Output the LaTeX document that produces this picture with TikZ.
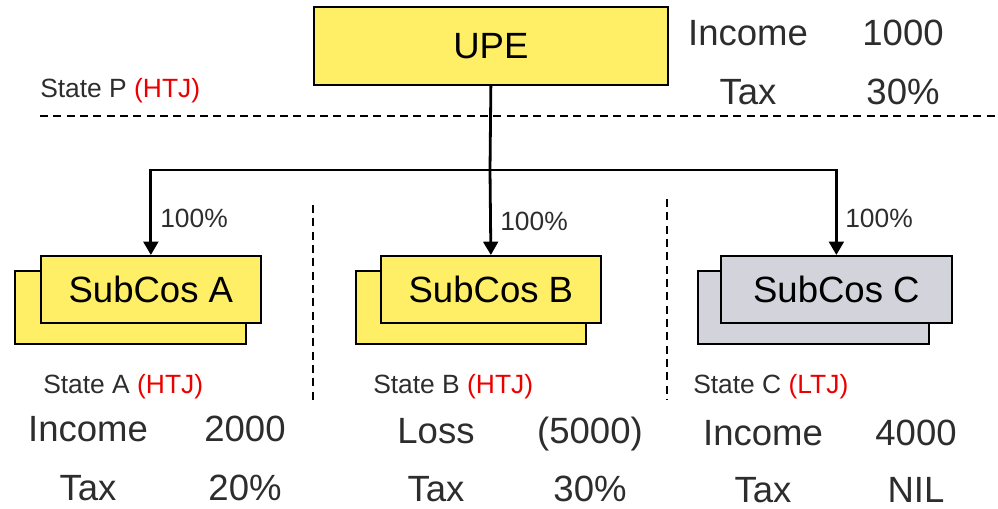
\documentclass[tikz,border=0pt]{standalone}
\usepackage{fontspec}
\setmainfont{Liberation Sans}
\usetikzlibrary{arrows.meta}
\definecolor{boxyellow}{RGB}{255,239,102}
\definecolor{boxgray}{RGB}{211,211,219}
\definecolor{txtgray}{RGB}{45,45,45}
\definecolor{jred}{RGB}{235,0,0}
\tikzset{
  big/.style={font=\fontsize{27.4}{32}\selectfont, text=txtgray, inner sep=0pt, anchor=base},
  small/.style={font=\fontsize{19.8}{24}\selectfont, text=txtgray, inner sep=0pt, anchor=base west},
  entity/.style={draw=black, line width=1.3pt, inner sep=0pt, anchor=north west,
    font=\fontsize{27.4}{32}\selectfont, text=black},
  yellowbox/.style={entity, fill=boxyellow},
  graybox/.style={entity, fill=boxgray},
  % size given in pixels of the drawing grid (1 px = 0.75 pt)
  sz/.style 2 args={minimum width={#1*0.75pt}, minimum height={#2*0.75pt}},
  link/.style={draw=black, line width=2.1pt},
  own/.style={link, -{Triangle[length=10pt,width=11pt]}},
  border/.style={draw=black, line width=1.1pt, dash pattern=on 6pt off 4pt},
}
\begin{document}
\begin{tikzpicture}[x=0.75pt, y=-0.75pt]
\useasboundingbox (0,0) rectangle (998,508);

% parent entity
\node[yellowbox, sz={354}{78}] (UPE) at (313,6) {UPE};
\node[big] (pInc) at (748,45) {Income};
\node[big] (pIncV) at (903,45) {1000};
\node[big] (pTax) at (748,104) {Tax};
\node[big] (pTaxV) at (903,104) {30\%};
\node[small] (stP) at (40,97) {State P \textcolor{jred}{(HTJ)}};

% jurisdiction borders
\draw[border] (40,116) -- (998,116);
\draw[border] (313,205) -- (313,400);
\draw[border] (667,199) -- (667,400);

% subsidiaries (stacked boxes)
\node[yellowbox, sz={231}{73}] (Aback) at (14,270) {};
\node[yellowbox, sz={220}{67}] (A) at (40,255) {SubCos A};
\node[yellowbox, sz={230}{73}] (Bback) at (355,270) {};
\node[yellowbox, sz={220}{67}] (B) at (380,255) {SubCos B};
\node[graybox, sz={231}{73}] (Cback) at (697,270) {};
\node[graybox, sz={231}{67}] (C) at (720,255) {SubCos C};

% ownership links
\coordinate (j) at (490,170);
\draw[link] (UPE.south) -- (j);
\draw[own] (j) -| (A.north);
\draw[own] (j) -- (B.north);
\draw[own] (j) -| (C.north);
\node[small] (pa) at (160,227) {100\%};
\node[small] (pb) at (500,230) {100\%};
\node[small] (pc) at (845,227) {100\%};

% State A
\node[small] (stA) at (43,393) {State A \textcolor{jred}{(HTJ)}};
\node[big] (aInc) at (88,441) {Income};
\node[big] (aIncV) at (245,441) {2000};
\node[big] (aTax) at (88,500) {Tax};
\node[big] (aTaxV) at (245,500) {20\%};

% State B
\node[small] (stB) at (373,393) {State B \textcolor{jred}{(HTJ)}};
\node[big] (bLoss) at (436,443) {Loss};
\node[big] (bLossV) at (590,443) {(5000)};
\node[big] (bTax) at (436,501) {Tax};
\node[big] (bTaxV) at (590,501) {30\%};

% State C
\node[small] (stC) at (693,393) {State C \textcolor{jred}{(LTJ)}};
\node[big] (cInc) at (763,445) {Income};
\node[big] (cIncV) at (916,445) {4000};
\node[big] (cTax) at (763,502) {Tax};
\node[big] (cTaxV) at (916,502) {NIL};
\end{tikzpicture}
\end{document}
